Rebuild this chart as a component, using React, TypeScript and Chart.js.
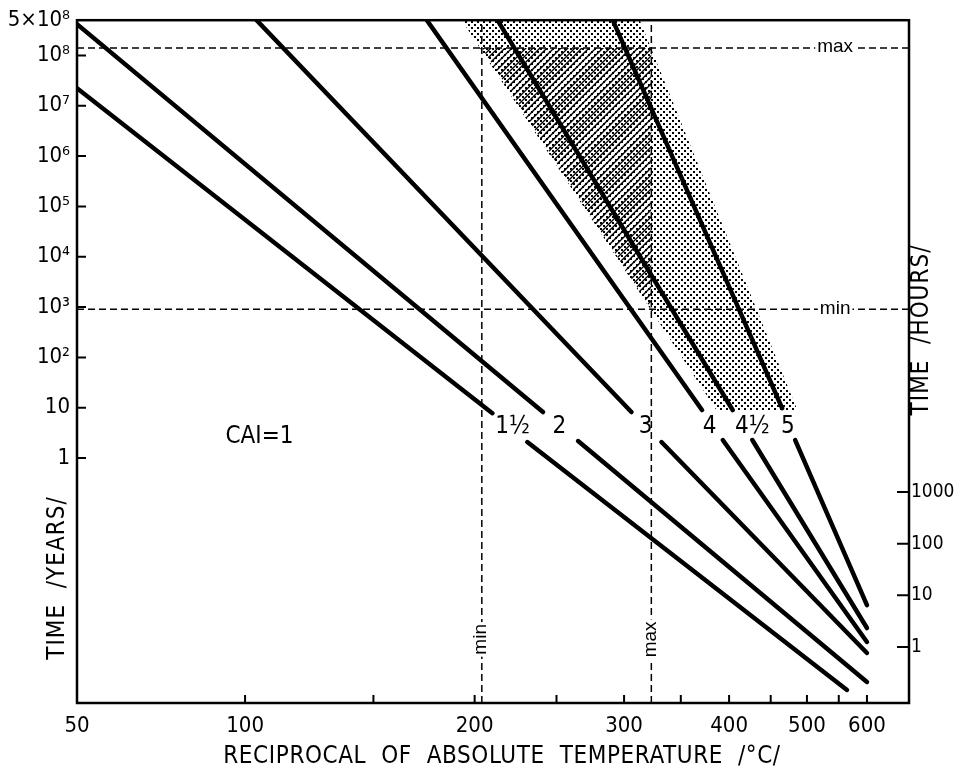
import React, { useEffect, useRef } from 'react';
import { Chart, registerables } from 'chart.js';
Chart.register(...registerables);

const FONT = "'Liberation Sans Narrow', 'DejaVu Sans Condensed', 'Roboto Condensed', 'Liberation Sans', sans-serif";
const SMALL_FONT = "'Liberation Sans', 'DejaVu Sans', sans-serif";

// x axis: reciprocal of absolute temperature, labelled in °C
const inv = (t: number) => -1000 / (t + 273);
const X_MIN_T = 50;
const X_MAX_T = 687;
const X_TICKS = [50, 100, 150, 200, 250, 300, 350, 400, 450, 500, 550, 600];
const X_LABELED = [50, 100, 200, 300, 400, 500, 600];

// left axis: time in years (log)
const Y_MIN = 1.36e-5;
const Y_MAX = 5e8;
const Y_TICKS = [1, 10, 1e2, 1e3, 1e4, 1e5, 1e6, 1e7, 1e8, 5e8];
const Y_TICK_LABELS = ['1', '10', '10²', '10³', '10⁴', '10⁵', '10⁶', '10⁷', '10⁸', '5×10⁸'];

// right axis: time in hours (log)
const Y2_MIN = 0.0826;
const Y2_MAX = 1.35e12;
const Y2_TICKS = [1, 10, 100, 1000];
const Y2_TICK_LABELS = ['1', '10', '100', '1000'];

// CAI isograds (upper and lower segments, broken at label)
const CAI_NAMES = ['1½', '2', '3', '4', '4½', '5'];
const UP_START_T = [50, 50, 104, 175, 213, 291];
const UP_START_Y = [2.23e7, 4.17e8, 5e8, 5e8, 5e8, 5e8];
const UP_END_T = [210, 241, 306, 371, 404, 465];
const UP_END_Y = [7.8, 8.2, 8.2, 9.0, 9.0, 9.8];
const LO_START_T = [231, 265, 332, 393, 427, 483];
const LO_START_Y = [2.08, 2.18, 2.08, 2.28, 2.28, 2.28];
const LO_END_T = [564, 600, 600, 600, 600, 600];
const LO_END_Y = [2.47e-5, 3.56e-5, 1.34e-4, 2.22e-4, 4.2e-4, 1.2e-3];
const LABEL_T = [222, 252, 318, 379, 427, 473];
const LABEL_Y = [4.1, 4.1, 4.1, 4.1, 4.1, 4.1];
const CAI1_T = 105;
const CAI1_Y = 2.7;

// min / max limits
const T_MIN_LINE = 204;
const T_MAX_LINE = 323;
const TIME_MAX = 1.4e8;
const TIME_MIN = 900;
const LEVEL_LABEL_T = 544;
const VERT_LABEL_Y = 2.5e-4;

// stippled band
const STIPPLE_T = [193, 313, 486, 386];
const STIPPLE_Y = [5e8, 5e8, 9.0, 9.0];

function makeDots(): CanvasPattern | string {
  const c = document.createElement('canvas');
  c.width = 6; c.height = 6;
  const g = c.getContext('2d');
  if (!g) return 'rgba(0,0,0,0.2)';
  g.fillStyle = '#000';
  g.fillRect(0, 0, 2, 2);
  g.fillRect(3, 3, 2, 2);
  return g.createPattern(c, 'repeat') || 'rgba(0,0,0,0.2)';
}

function makeHatch(): CanvasPattern | string {
  const s = 7;
  const c = document.createElement('canvas');
  c.width = s; c.height = s;
  const g = c.getContext('2d');
  if (!g) return 'rgba(0,0,0,0.3)';
  g.strokeStyle = '#000';
  g.lineWidth = 1.4;
  g.beginPath();
  g.moveTo(0, s); g.lineTo(s, 0);
  g.moveTo(-1, 1); g.lineTo(1, -1);
  g.moveTo(s - 1, s + 1); g.lineTo(s + 1, s - 1);
  g.stroke();
  return g.createPattern(c, 'repeat') || 'rgba(0,0,0,0.3)';
}

const annotate = {
  id: 'annotate',
  afterDatasetsDraw(chart: any) {
    const { ctx } = chart;
    const x = chart.scales.x;
    const y = chart.scales.y;
    ctx.save();
    ctx.fillStyle = '#000';
    ctx.textAlign = 'center';
    ctx.textBaseline = 'middle';
    ctx.font = `24px ${FONT}`;
    CAI_NAMES.forEach((n, i) => {
      ctx.fillText(n, x.getPixelForValue(inv(LABEL_T[i])), y.getPixelForValue(LABEL_Y[i]));
    });
    ctx.fillText('CAI=1', x.getPixelForValue(inv(CAI1_T)), y.getPixelForValue(CAI1_Y));

    ctx.font = `19px ${SMALL_FONT}`;
    const label = (text: string, px: number, py: number, rot: number) => {
      ctx.save();
      ctx.translate(px, py);
      ctx.rotate(rot);
      const w = ctx.measureText(text).width;
      ctx.fillStyle = '#fff';
      ctx.fillRect(-w / 2 - 2, -7, w + 4, 14);
      ctx.fillStyle = '#000';
      ctx.fillText(text, 0, -1);
      ctx.restore();
    };
    label('max', x.getPixelForValue(inv(LEVEL_LABEL_T)), y.getPixelForValue(TIME_MAX), 0);
    label('min', x.getPixelForValue(inv(LEVEL_LABEL_T)), y.getPixelForValue(TIME_MIN), 0);
    label('min', x.getPixelForValue(inv(T_MIN_LINE)), y.getPixelForValue(VERT_LABEL_Y), -Math.PI / 2);
    label('max', x.getPixelForValue(inv(T_MAX_LINE)), y.getPixelForValue(VERT_LABEL_Y), -Math.PI / 2);
    ctx.restore();
  },
  afterDraw(chart: any) {
    const { ctx, chartArea } = chart;
    const { left, right, top, bottom } = chartArea;
    const x = chart.scales.x;
    const y = chart.scales.y;
    const y2 = chart.scales.y2;
    ctx.save();
    ctx.strokeStyle = '#000';
    ctx.lineWidth = 2.5;
    ctx.strokeRect(left, top, right - left, bottom - top);
    ctx.lineWidth = 2;
    ctx.beginPath();
    X_TICKS.forEach((t) => {
      if (t === X_MIN_T) return;
      const px = x.getPixelForValue(inv(t));
      ctx.moveTo(px, bottom);
      ctx.lineTo(px, bottom - 8);
    });
    Y_TICKS.forEach((v) => {
      if (v === Y_MAX) return;
      const py = y.getPixelForValue(v);
      ctx.moveTo(left, py);
      ctx.lineTo(left + 9, py);
    });
    Y2_TICKS.forEach((v) => {
      const py = y2.getPixelForValue(v);
      ctx.moveTo(right, py);
      ctx.lineTo(right - 12, py);
    });
    ctx.stroke();

    // axis titles
    ctx.fillStyle = '#000';
    ctx.textAlign = 'center';
    ctx.textBaseline = 'middle';
    ctx.font = `24px ${FONT}`;
    (ctx as any).letterSpacing = '0.6px';
    ctx.fillText('RECIPROCAL  OF  ABSOLUTE  TEMPERATURE  /°C/', 502, 757);
    (ctx as any).letterSpacing = '1px';
    ctx.save();
    ctx.translate(58, 578);
    ctx.rotate(-Math.PI / 2);
    ctx.fillText('TIME  /YEARS/', 0, 0);
    ctx.restore();
    ctx.save();
    ctx.translate(922, 330);
    ctx.rotate(-Math.PI / 2);
    ctx.fillText('TIME  /HOURS/', 0, 0);
    ctx.restore();
    (ctx as any).letterSpacing = '0px';
    ctx.restore();
  },
};

export default function App() {
  const ref = useRef<HTMLCanvasElement>(null);
  useEffect(() => {
    if (!ref.current) return;
    const dots = makeDots();
    const hatch = makeHatch();
    const lineStyle = {
      borderColor: '#000',
      borderWidth: 4.5,
      borderCapStyle: 'round',
      pointRadius: 0,
      fill: false,
      order: 0,
    };
    const datasets: any[] = [];
    CAI_NAMES.forEach((n, i) => {
      datasets.push({
        ...lineStyle,
        label: `CAI ${n} upper`,
        data: [
          { x: inv(UP_START_T[i]), y: UP_START_Y[i] },
          { x: inv(UP_END_T[i]), y: UP_END_Y[i] },
        ],
      });
      datasets.push({
        ...lineStyle,
        label: `CAI ${n} lower`,
        data: [
          { x: inv(LO_START_T[i]), y: LO_START_Y[i] },
          { x: inv(LO_END_T[i]), y: LO_END_Y[i] },
        ],
      });
    });
    const dashStyle = {
      borderColor: '#000',
      borderWidth: 1.5,
      borderDash: [7, 4],
      pointRadius: 0,
      fill: false,
      order: 1,
    };
    datasets.push({ ...dashStyle, label: 'max time', data: [{ x: inv(X_MIN_T), y: TIME_MAX }, { x: inv(X_MAX_T), y: TIME_MAX }] });
    datasets.push({ ...dashStyle, label: 'min time', data: [{ x: inv(X_MIN_T), y: TIME_MIN }, { x: inv(X_MAX_T), y: TIME_MIN }] });
    datasets.push({ ...dashStyle, label: 'min temp', data: [{ x: inv(T_MIN_LINE), y: Y_MIN }, { x: inv(T_MIN_LINE), y: Y_MAX }] });
    datasets.push({ ...dashStyle, label: 'max temp', data: [{ x: inv(T_MAX_LINE), y: Y_MIN }, { x: inv(T_MAX_LINE), y: Y_MAX }] });

    const hatchPts = [
      { x: inv(T_MIN_LINE), y: TIME_MAX },
      { x: inv(T_MAX_LINE), y: TIME_MAX },
      { x: inv(T_MAX_LINE), y: TIME_MIN },
      { x: inv(T_MIN_LINE), y: TIME_MAX },
    ];
    datasets.push({
      label: 'hatch',
      data: hatchPts,
      borderColor: 'rgba(0,0,0,0)',
      borderWidth: 0,
      backgroundColor: hatch,
      fill: 'shape',
      pointRadius: 0,
      order: 2,
    });
    const stipplePts = STIPPLE_T.map((t, i) => ({ x: inv(t), y: STIPPLE_Y[i] }));
    stipplePts.push(stipplePts[0]);
    datasets.push({
      label: 'stipple',
      data: stipplePts,
      borderColor: 'rgba(0,0,0,0)',
      borderWidth: 0,
      backgroundColor: dots,
      fill: 'shape',
      pointRadius: 0,
      order: 3,
    });

    const chart = new Chart(ref.current, {
      type: 'line',
      data: { datasets },
      options: {
        animation: false,
        responsive: false,
        layout: { padding: { top: 20, left: 0, right: 0, bottom: 0 } },
        plugins: { legend: { display: false }, tooltip: { enabled: false } },
        elements: { line: { tension: 0 }, point: { radius: 0 } },
        scales: {
          x: {
            type: 'linear',
            min: inv(X_MIN_T),
            max: inv(X_MAX_T),
            grid: { display: false, drawTicks: false },
            border: { display: false },
            afterBuildTicks: (s: any) => { s.ticks = X_TICKS.map((t) => ({ value: inv(t) })); },
            afterFit: (s: any) => { s.height = 72; },
            ticks: {
              autoSkip: false,
              maxRotation: 0,
              padding: 10,
              color: '#000',
              font: { family: FONT, size: 22 },
              callback: (_v: any, i: number) => (X_LABELED.includes(X_TICKS[i]) ? String(X_TICKS[i]) : ''),
            },
          },
          y: {
            type: 'logarithmic',
            position: 'left',
            min: Y_MIN,
            max: Y_MAX,
            grid: { display: false, drawTicks: false },
            border: { display: false },
            afterBuildTicks: (s: any) => { s.ticks = Y_TICKS.map((v) => ({ value: v })); },
            afterFit: (s: any) => { s.width = 77; },
            ticks: {
              autoSkip: false,
              padding: 7,
              color: '#000',
              font: { family: FONT, size: 22 },
              callback: (_v: any, i: number) => Y_TICK_LABELS[i],
            },
          },
          y2: {
            type: 'logarithmic',
            position: 'right',
            min: Y2_MIN,
            max: Y2_MAX,
            grid: { display: false, drawTicks: false },
            border: { display: false },
            afterBuildTicks: (s: any) => { s.ticks = Y2_TICKS.map((v) => ({ value: v })); },
            afterFit: (s: any) => { s.width = 47; },
            ticks: {
              autoSkip: false,
              padding: 2,
              color: '#000',
              font: { family: FONT, size: 19 },
              callback: (_v: any, i: number) => Y2_TICK_LABELS[i],
            },
          },
        },
      } as any,
      plugins: [annotate as any],
    });
    return () => chart.destroy();
  }, []);
  return (
    <div style={{ position: 'fixed', left: 0, top: 0, width: 956, height: 775, background: '#fff' }}>
      <canvas ref={ref} width={956} height={775} style={{ display: 'block' }} />
    </div>
  );
}
